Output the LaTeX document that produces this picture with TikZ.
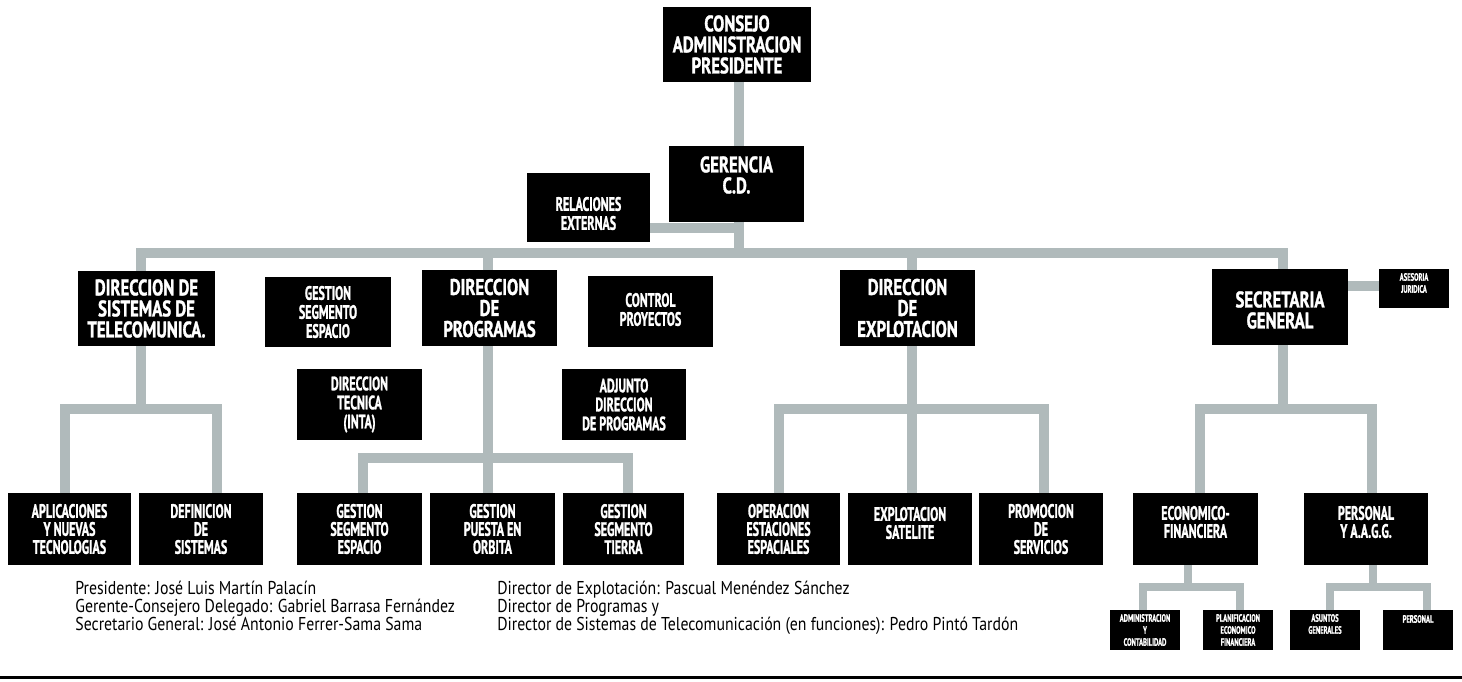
\documentclass[tikz,border=0pt]{standalone}
\usepackage{fontspec}
\newfontfamily\fbig{PT Sans}[FakeStretch=0.74, BoldFeatures={FakeBold=1.3}]
\newfontfamily\fmid{PT Sans}[FakeStretch=0.62, BoldFeatures={FakeBold=1.2}]
\newfontfamily\fnote{PT Sans}[FakeStretch=0.85]
\definecolor{conncol}{RGB}{176,186,187}
\tikzset{
  obox/.style={fill=black, draw=none, inner sep=0pt, outer sep=0pt},
  lab/.style={text=white, align=center, inner sep=0pt, label distance=0pt},
  lbig/.style={lab, font=\fbig\bfseries\fontsize{11.3}{10.5}\selectfont},
  lmid/.style={lab, font=\fmid\bfseries\fontsize{9.7}{9.5}\selectfont},
  llow/.style={lab, font=\fmid\bfseries\fontsize{9.7}{9}\selectfont},
  ltiny/.style={lab, font=\fmid\bfseries\fontsize{5.3}{6}\selectfont},
  conn/.style={draw=conncol, line width=5pt, line join=miter},
  connsm/.style={draw=conncol, line width=4.2pt, line join=miter},
  note/.style={align=left, inner sep=0pt, font=\fnote\fontsize{9.3}{9}\selectfont}
}
\newcommand\orgbox[8]{%
  \node[obox, minimum width={(#4-#2)*0.5pt}, minimum height={(#5-#3)*0.5pt},
        label={[#6, yshift=#7]center:{#8}}] (#1) at ({(#2+#4)/2},{(#3+#5)/2}) {};
}
\begin{document}
\begin{tikzpicture}[x=0.5pt, y=-0.5pt]
\useasboundingbox (0,0) rectangle (1462,681);
\fill[white] (0,0) rectangle (1462,681);

% boxes
\orgbox{consejo}{663}{7}{811}{82}{lbig}{0pt}{CONSEJO\\ADMINISTRACION\\PRESIDENTE}
\orgbox{gerencia}{669}{146}{804}{222}{lbig}{4.5pt}{GERENCIA\\C.D.}
\orgbox{relext}{527}{173}{650}{242}{lmid}{-3pt}{RELACIONES\\EXTERNAS}
\orgbox{dst}{78}{271}{215}{346}{lbig}{0pt}{DIRECCION DE\\SISTEMAS DE\\TELECOMUNICA.}
\orgbox{gse1}{265}{277}{391}{347}{lmid}{0pt}{GESTION\\SEGMENTO\\ESPACIO}
\orgbox{dpr}{422}{270}{557}{346}{lbig}{0pt}{DIRECCION\\DE\\PROGRAMAS}
\orgbox{ctrl}{588}{276}{713}{347}{lmid}{1pt}{CONTROL\\PROYECTOS}
\orgbox{dtec}{297}{369}{422}{440}{lmid}{0pt}{DIRECCION\\TECNICA\\(INTA)}
\orgbox{adj}{562}{369}{686}{440}{lmid}{0pt}{ADJUNTO\\DIRECCION\\DE PROGRAMAS}
\orgbox{dex}{840}{270}{975}{346}{lbig}{0pt}{DIRECCION\\DE\\EXPLOTACION}
\orgbox{sec}{1212}{269}{1348}{345}{lbig}{-1.5pt}{SECRETARIA\\GENERAL}
\orgbox{ase}{1379}{269}{1449}{308}{ltiny}{2.75pt}{ASESORIA\\JURIDICA}

\orgbox{apl}{8}{493}{131}{565}{llow}{0pt}{APLICACIONES\\Y NUEVAS\\TECNOLOGIAS}
\orgbox{def}{139}{493}{263}{565}{llow}{0pt}{DEFINICION\\DE\\SISTEMAS}
\orgbox{gse2}{297}{493}{422}{565}{llow}{0pt}{GESTION\\SEGMENTO\\ESPACIO}
\orgbox{gpo}{430}{493}{555}{565}{llow}{0pt}{GESTION\\PUESTA EN\\ORBITA}
\orgbox{gst}{563}{493}{684}{565}{llow}{0pt}{GESTION\\SEGMENTO\\TIERRA}
\orgbox{oee}{717}{493}{840}{565}{llow}{0pt}{OPERACION\\ESTACIONES\\ESPACIALES}
\orgbox{exs}{848}{493}{972}{565}{llow}{3pt}{EXPLOTACION\\SATELITE}
\orgbox{pro}{979}{493}{1103}{565}{llow}{0pt}{PROMOCION\\DE\\SERVICIOS}
\orgbox{eco}{1133}{493}{1258}{565}{llow}{3.5pt}{ECONOMICO-\\FINANCIERA}
\orgbox{per}{1304}{493}{1428}{565}{llow}{3.5pt}{PERSONAL\\Y A.A.G.G.}

\orgbox{adm}{1110}{610}{1180}{650}{ltiny}{0pt}{ADMINISTRACION\\Y\\CONTABILIDAD}
\orgbox{pla}{1203}{610}{1273}{650}{ltiny}{0pt}{PLANIFICACION\\ECONOMICO\\FINANCIERA}
\orgbox{asu}{1290}{610}{1360}{650}{ltiny}{3pt}{ASUNTOS\\GENERALES}
\orgbox{pers}{1383}{610}{1453}{650}{ltiny}{5.5pt}{PERSONAL}

% junction coordinates
\coordinate (stem) at (739,253);
\coordinate (relj) at (739,228);
\coordinate (sbL) at (65,409);  \coordinate (sbR) at (217,409);  \coordinate (sbM) at (141,409);
\coordinate (pbL) at (363,458); \coordinate (pbR) at (628,458); \coordinate (pbM) at (488,458);
\coordinate (ebL) at (779,409); \coordinate (ebR) at (1044,409); \coordinate (ebM) at (912,409);
\coordinate (qbL) at (1200,409); \coordinate (qbR) at (1372,409); \coordinate (qbM) at (1283,409);
\coordinate (aj) at (1400,286);
\coordinate (ecL) at (1143,587); \coordinate (ecR) at (1240,587); \coordinate (ecM) at (1188,587);
\coordinate (pcL) at (1330,587); \coordinate (pcR) at (1427,587); \coordinate (pcM) at (1373,587);

% connectors
\draw[conn] (consejo.south -| stem) -- (gerencia.north -| stem);
\draw[conn] (gerencia.south -| stem) -- (stem);
\draw[conn] (relext.east |- relj) -- (relj);
\draw[conn] (dst.north -| sbM) -- (sbM |- stem) -- (qbM |- stem) -- (sec.north -| qbM);
\draw[conn] (dpr.north -| pbM) -- (pbM |- stem);
\draw[conn] (dex.north -| ebM) -- (ebM |- stem);

\draw[conn] (dst.south -| sbM) -- (sbM);
\draw[conn] (apl.north -| sbL) -- (sbL) -- (sbR) -- (def.north -| sbR);

\draw[conn] (dpr.south -| pbM) -- (gpo.north -| pbM);
\draw[conn] (gse2.north -| pbL) -- (pbL) -- (pbR) -- (gst.north -| pbR);

\draw[conn] (dex.south -| ebM) -- (exs.north -| ebM);
\draw[conn] (oee.north -| ebL) -- (ebL) -- (ebR) -- (pro.north -| ebR);

\draw[conn] (sec.south -| qbM) -- (qbM);
\draw[conn] (eco.north -| qbL) -- (qbL) -- (qbR) -- (per.north -| qbR);
\draw[conn] (sec.east |- aj) -- (ase.west |- aj);

\draw[connsm] (eco.south -| ecM) -- (ecM);
\draw[connsm] (adm.north -| ecL) -- (ecL) -- (ecR) -- (pla.north -| ecR);
\draw[connsm] (per.south -| pcM) -- (pcM);
\draw[connsm] (asu.north -| pcL) -- (pcL) -- (pcR) -- (pers.north -| pcR);

% notes
\node[note, anchor=north west] (n1) at (75,581) {Presidente: José Luis Martín Palacín\\Gerente-Consejero Delegado: Gabriel Barrasa Fernández\\Secretario General: José Antonio Ferrer-Sama Sama};
\node[note, anchor=north west] (n2) at (497,581) {Director de Explotación: Pascual Menéndez Sánchez\\Director de Programas y\\Director de Sistemas de Telecomunicación (en funciones): Pedro Pintó Tardón};

% bottom rule
\draw[line width=1.5pt] (0,677) -- (1462,677);
\end{tikzpicture}
\end{document}
